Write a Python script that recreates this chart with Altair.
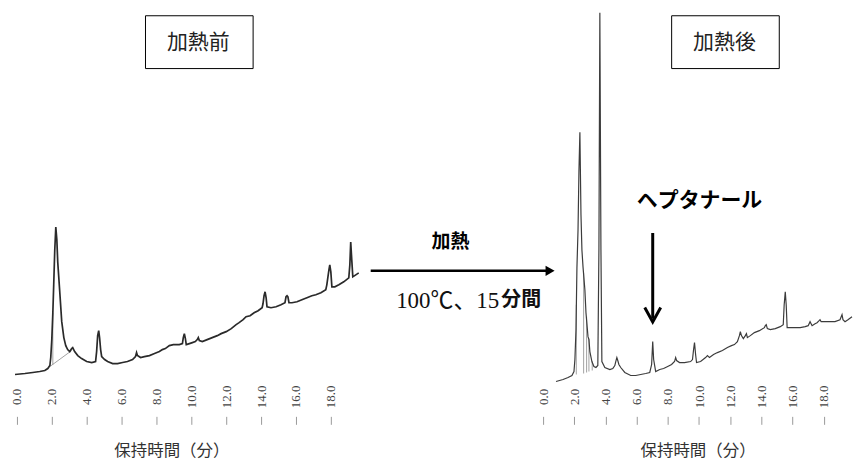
import altair as alt
import pandas as pd

# Chromatogram before heating: retention time (min) and detector signal
before_time = [-0.11, 0.46, 0.91, 1.31, 1.60, 1.77, 1.89, 1.94, 2.00, 2.06, 2.11, 2.17, 2.23, 2.29, 2.34,
               2.46, 2.57, 2.69, 2.80, 2.91, 3.03, 3.14, 3.20, 3.31, 3.49, 3.71, 4.00, 4.29, 4.51, 4.57,
               4.63, 4.69, 4.74, 4.80, 4.86, 5.03, 5.20, 5.49, 5.77, 6.06, 6.34, 6.63, 6.80, 6.86, 6.91,
               7.09, 7.31, 7.60, 7.89, 8.17, 8.34, 8.51, 8.74, 8.97, 9.31, 9.49, 9.54, 9.60, 9.66, 9.71,
               9.89, 10.06, 10.23, 10.34, 10.40, 10.46, 10.63, 10.91, 11.20, 11.49, 11.71, 12.00, 12.29,
               12.57, 12.74, 12.97, 13.14, 13.37, 13.60, 13.83, 14.06, 14.11, 14.17, 14.23, 14.29, 14.34,
               14.57, 14.86, 15.14, 15.37, 15.43, 15.49, 15.54, 15.60, 15.77, 16.06, 16.34, 16.63, 16.91,
               17.14, 17.43, 17.71, 17.77, 17.89, 17.94, 18.00, 18.06, 18.23, 18.46, 18.74, 19.03, 19.09,
               19.14, 19.20, 19.26, 19.43, 19.60]
before_signal = [10, 11, 12, 13, 14, 16, 19, 27, 45, 72, 100, 135, 158, 145, 123,
                 92, 63, 47, 39, 35, 33, 36, 37, 33, 29, 26, 23, 22, 23, 33,
                 49, 54, 47, 35, 28, 25, 23, 21, 21, 22, 23, 25, 28, 32, 29,
                 27, 28, 29, 31, 33, 35, 36, 39, 40, 40, 41, 47, 51, 46, 40,
                 41, 42, 43, 45, 47, 44, 43, 45, 47, 49, 51, 53, 56,
                 60, 62, 65, 68, 69, 72, 74, 77, 81, 89, 93, 87, 78,
                 77, 78, 80, 82, 88, 89, 88, 82, 82, 83, 85, 87, 89,
                 90, 92, 95, 100, 115, 120, 113, 98, 98, 100, 103, 107, 120,
                 143, 125, 108, 110, 112]

# Chromatogram after heating at 100 °C for 15 min
after_time = [0.83, 1.28, 1.60, 1.85, 1.98, 2.04, 2.11, 2.17, 2.24, 2.30, 2.36, 2.43, 2.49, 2.56, 2.68,
              2.75, 2.88, 2.94, 3.00, 3.13, 3.26, 3.39, 3.51, 3.58, 3.64, 3.71, 3.77, 3.96, 4.28, 4.47,
              4.60, 4.66, 4.73, 4.79, 4.86, 4.98, 5.24, 5.62, 5.94, 6.26, 6.58, 6.84, 6.96, 7.03, 7.09,
              7.22, 7.48, 7.73, 7.99, 8.24, 8.43, 8.50, 8.56, 8.75, 9.07, 9.46, 9.58, 9.65, 9.71, 9.78,
              9.84, 10.10, 10.42, 10.54, 10.67, 10.93, 11.18, 11.50, 11.82, 12.08, 12.27, 12.46, 12.59,
              12.65, 12.72, 12.84, 12.97, 13.04, 13.10, 13.29, 13.55, 13.87, 14.19, 14.25, 14.31, 14.38,
              14.57, 14.89, 15.21, 15.40, 15.46, 15.53, 15.59, 15.65, 15.85, 16.10, 16.49, 16.81, 17.00,
              17.12, 17.25, 17.44, 17.57, 17.70, 17.76, 17.83, 18.08, 18.40, 18.72, 19.04, 19.17, 19.23,
              19.36, 19.55, 19.81]
after_signal = [3, 5, 7, 9, 13, 25, 55, 117, 155, 215, 253, 170, 135, 118, 95,
                72, 48, 45, 33, 23, 18, 17, 19, 135, 373, 135, 23, 17, 15, 16,
                19, 23, 27, 24, 20, 17, 12, 9, 9, 10, 11, 12, 20, 43, 25,
                13, 15, 16, 18, 20, 23, 27, 24, 22, 22, 23, 25, 35, 42, 30,
                22, 23, 27, 29, 27, 30, 32, 34, 37, 39, 40, 43, 49,
                53, 49, 46, 49, 51, 47, 49, 52, 54, 57, 59, 60, 56,
                55, 56, 58, 60, 80, 93, 80, 57, 57, 57, 57, 58, 59,
                63, 59, 61, 62, 64, 65, 63, 63, 63, 63, 65, 70, 65,
                63, 65, 68]

# Integrator baseline and peak drop lines
before_integ_time = [1.89, 3.14, 2.06, 2.06]
before_integ_signal = [18, 34, 20, 72]
before_integ_seg = [0, 0, 1, 1]
after_integ_time = [2.13, 2.13, 2.60, 2.60, 2.79, 2.79, 2.94, 2.94, 3.15, 3.15]
after_integ_signal = [10, 80, 11, 112, 12, 68, 13, 46, 14, 23]
after_integ_seg = [0, 0, 1, 1, 2, 2, 3, 3, 4, 4]

tick_values = [0.0, 2.0, 4.0, 6.0, 8.0, 10.0, 12.0, 14.0, 16.0, 18.0]
panel_titles = ["加熱前", "加熱後"]
x_title = "保持時間（分）"
heating_label = "加熱"
heating_condition = ["100℃、15", "分間"]
compound_label = "ヘプタナール"
heptanal_time = [7.03]

H = 385
CJK = "Noto Sans CJK JP"


def x_enc(domain):
    return alt.X(
        "time:Q",
        scale=alt.Scale(domain=domain, nice=False, zero=False),
        axis=alt.Axis(
            values=tick_values, format=".1f", title=x_title,
            domain=False, grid=False, offset=32,
            ticks=True, tickSize=8, tickColor="#9a9a9a", tickWidth=1,
            labelAngle=270, labelAlign="center", labelBaseline="middle",
            labelPadding=-28, labelFont="Liberation Serif", labelFontSize=13,
            labelColor="#444", labelOverlap=False,
            titleFont=CJK, titleFontSize=16.5, titleFontWeight="normal",
            titleColor="#333", titleX=172, titleY=34, titleAlign="center",
            titleBaseline="middle",
        ),
    )


y_enc = alt.Y("signal:Q", scale=alt.Scale(domain=[0, H], nice=False, zero=False), axis=None)


def panel(times, signals, itimes, isignals, isegs, domain, title, line_w, line_c):
    curve = pd.DataFrame({"time": times, "signal": signals, "idx": range(len(times))})
    integ = pd.DataFrame({"time": itimes, "signal": isignals, "seg": isegs})
    lbl = pd.DataFrame({"title": [title]})
    x = x_enc(domain)
    integ_layer = alt.Chart(integ).mark_line(color="#8a8a8a", strokeWidth=0.8).encode(
        x=x, y=y_enc, detail="seg:N"
    )
    curve_layer = alt.Chart(curve).mark_line(color=line_c, strokeWidth=line_w).encode(
        x=x, y=y_enc, order="idx:Q"
    )
    box = alt.Chart(lbl).mark_rect(fill="white", stroke="black", strokeWidth=1).encode(
        x=alt.value(146), x2=alt.value(254), y=alt.value(15), y2=alt.value(68)
    )
    box_text = alt.Chart(lbl).mark_text(
        font=CJK, fontSize=21, color="#222", align="center", baseline="middle"
    ).encode(x=alt.value(199), y=alt.value(42), text="title:N")
    return [integ_layer, curve_layer, box, box_text], x


left_layers, _ = panel(before_time, before_signal, before_integ_time, before_integ_signal,
                       before_integ_seg, [-0.97, 19.6], panel_titles[0], 1.7, "#2a2a2a")
left = alt.layer(*left_layers).properties(width=360, height=H)

right_layers, xr = panel(after_time, after_signal, after_integ_time, after_integ_signal,
                         after_integ_seg, [-1.086, 19.81], panel_titles[1], 1.2, "#3c3c3c")

# Arrow pointing to the heptanal peak
cmp = pd.DataFrame({"compound": [compound_label], "time": heptanal_time})
arrow_shaft = alt.Chart(cmp).mark_rule(color="black", strokeWidth=3).encode(
    x=xr, y=alt.Y(datum=152, axis=None), y2=alt.datum(66)
)
arrow_head = alt.Chart(cmp).mark_point(
    shape="M-1,-0.9L0,0.9L1,-0.9", filled=False, size=256, strokeWidth=3,
    color="black", opacity=1
).encode(x=xr, y=alt.Y(datum=70, axis=None))
compound_text = alt.Chart(cmp).mark_text(
    font=CJK, fontSize=21, fontWeight="bold", color="black", align="center", baseline="middle"
).encode(x=alt.value(174), y=alt.value(201), text="compound:N")

right = alt.layer(*right_layers, arrow_shaft, arrow_head, compound_text).properties(width=327, height=H)

# Heating step between the two chromatograms
step = pd.DataFrame({"label": [heating_label], "cond_a": [heating_condition[0]],
                     "cond_b": [heating_condition[1]]})
step_title = alt.Chart(step).mark_text(
    font=CJK, fontSize=19, fontWeight="bold", color="black", align="center", baseline="middle"
).encode(x=alt.value(92), y=alt.value(242), text="label:N")
step_cond_a = alt.Chart(step).mark_text(
    font="Liberation Serif, Noto Sans CJK JP", fontSize=23, color="#111",
    align="right", baseline="middle"
).encode(x=alt.value(141), y=alt.value(301), text="cond_a:N")
step_cond_b = alt.Chart(step).mark_text(
    font=CJK, fontSize=20, fontWeight="bold", color="#111",
    align="left", baseline="middle"
).encode(x=alt.value(143), y=alt.value(300), text="cond_b:N")
step_line = alt.Chart(step).mark_rule(color="black", strokeWidth=2.5).encode(
    x=alt.value(12), x2=alt.value(190), y=alt.value(271)
)
step_head = alt.Chart(step).mark_point(
    shape="triangle-right", filled=True, size=110, color="black", opacity=1
).encode(x=alt.value(192), y=alt.value(271))
mid = alt.layer(step_line, step_head, step_title, step_cond_a, step_cond_b).properties(
    width=168, height=H
)

chart = alt.hconcat(left, mid, right, spacing=0, bounds="flush").properties(
    padding=0, background="white"
).configure_view(stroke=None)

chart.save("out.html", embed_options={"renderer": "svg", "actions": False})
